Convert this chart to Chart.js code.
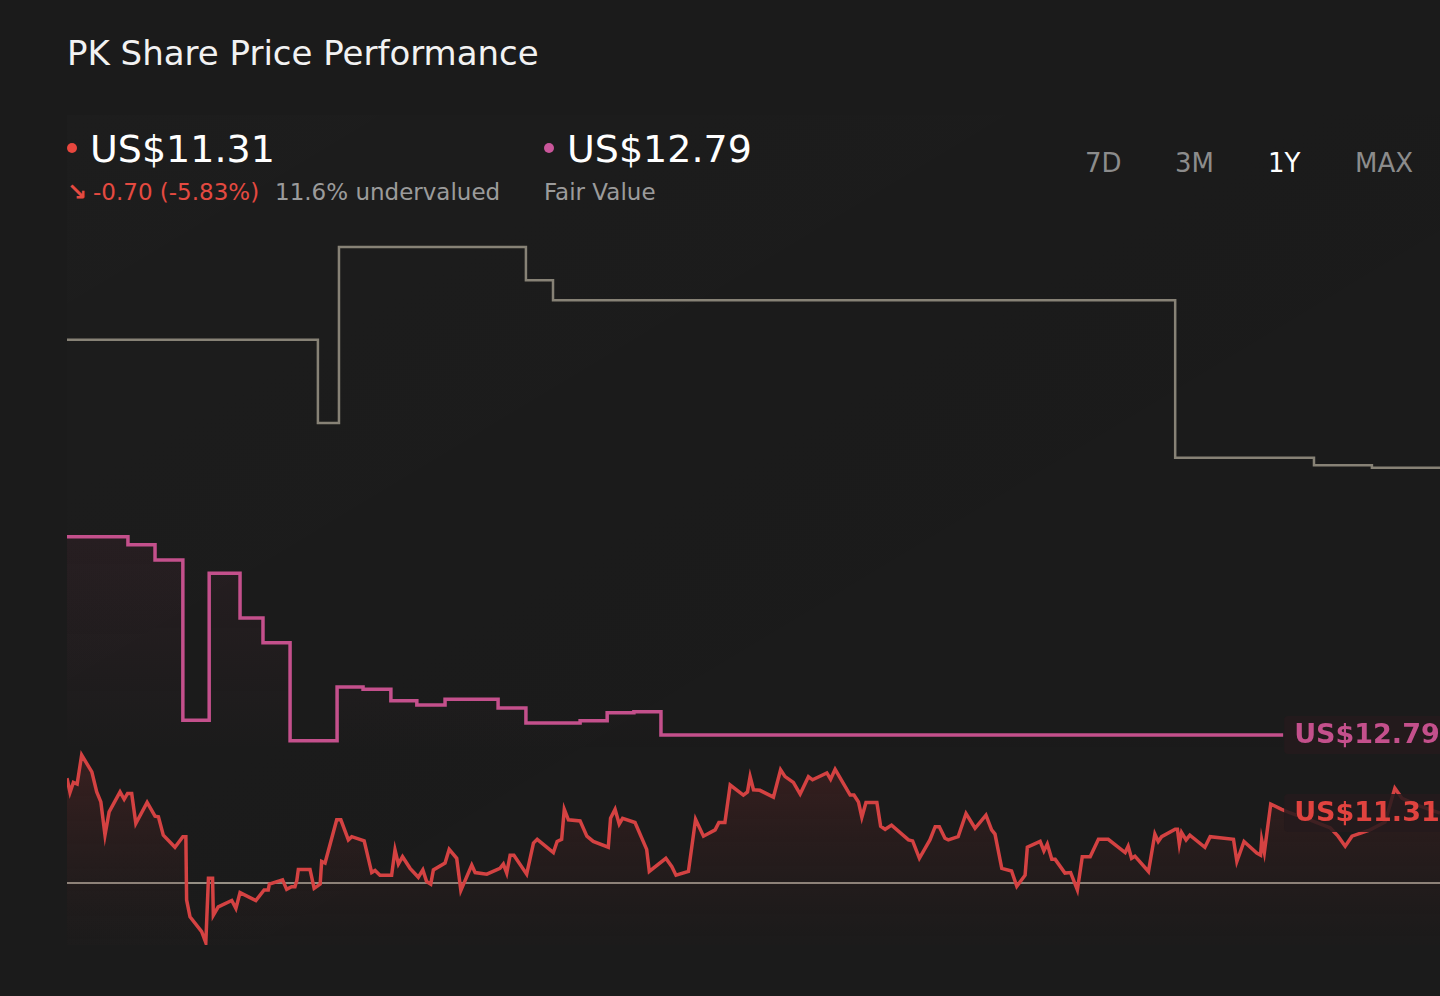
<!DOCTYPE html>
<html>
<head>
<meta charset="utf-8">
<script src="https://cdn.jsdelivr.net/npm/chart.js@4.4.0/dist/chart.umd.min.js"></script>
<style>
  html, body { margin: 0; padding: 0; background: #1b1b1b; width: 1440px; height: 996px; overflow: hidden; font-family: "DejaVu Sans", sans-serif; }
  .t { position: absolute; line-height: 1; white-space: nowrap; }
  .dot { position: absolute; width: 10px; height: 10px; border-radius: 50%; }
  #wrap { position: absolute; left: 67px; top: 115px; width: 1373px; height: 830px; }
</style>
</head>
<body>
<div class="t" style="left:67px;top:36px;font-size:34px;color:#f2f2f2;">PK Share Price Performance</div>

<div class="dot" style="left:67px;top:143px;background:#e8453c;"></div>
<div class="t" style="left:90px;top:130px;font-size:38px;color:#ffffff;">US$11.31</div>
<div class="t" style="left:67px;top:180px;font-size:24px;font-weight:bold;color:#e5483f;">↘</div>
<div class="t" style="left:93px;top:181px;font-size:23px;color:#e5483f;">-0.70 (-5.83%)</div>
<div class="t" style="left:275px;top:181px;font-size:23px;color:#9b9b9b;">11.6% undervalued</div>

<div class="dot" style="left:544px;top:143px;background:#c9559a;"></div>
<div class="t" style="left:567px;top:130px;font-size:38px;color:#ffffff;">US$12.79</div>
<div class="t" style="left:544px;top:181px;font-size:23px;color:#9b9b9b;">Fair Value</div>

<div class="t" style="left:1085px;top:150px;font-size:26px;color:#8c8c8c;">7D</div>
<div class="t" style="left:1175px;top:150px;font-size:26px;color:#8c8c8c;">3M</div>
<div class="t" style="left:1268px;top:150px;font-size:26px;color:#ffffff;">1Y</div>
<div class="t" style="left:1355px;top:150px;font-size:26px;color:#8c8c8c;">MAX</div>

<div id="wrap"><canvas id="chart"></canvas></div>

<script>
// share price, day of the year -> US$
var priceDays = [
  0, 0.8, 1.7, 2.7, 3.9, 6.6, 7.9, 9.0, 10.1, 11.2,
  14.1, 15.2, 16.1, 17.2, 18.3, 21.3, 23.4, 24.3, 25.6, 28.7,
  30.8, 31.6, 31.8, 32.7, 35.8, 36.9, 37.6, 38.7, 38.9, 40.2,
  43.8, 44.9, 46.0, 50.2, 52.4, 53.5, 53.8, 57.3, 58.4, 59.7,
  60.6, 61.1, 61.5, 64.6, 65.7, 67.3, 67.7, 68.6, 71.7, 72.8,
  74.8, 75.7, 79.0, 81.0, 81.9, 83.2, 86.3, 87.2, 88.1, 89.2,
  91.2, 93.4, 94.6, 95.6, 96.7, 97.4, 100.5, 101.6, 103.6, 104.7,
  107.6, 108.5, 111.6, 115.1, 116.0, 116.9, 117.8, 118.8, 122.2, 124.0,
  125.0, 129.3, 130.3, 131.5, 132.2, 133.3, 136.4, 138.2, 139.9, 143.9,
  144.5, 145.7, 146.8, 147.7, 151.0, 154.1, 154.8, 159.2, 160.8, 161.9,
  165.2, 167.1, 169.2, 172.3, 173.3, 174.9, 176.3, 179.8, 180.9, 181.6,
  182.5, 184.2, 187.8, 189.7, 190.9, 193.1, 194.9, 197.1, 198.2, 202.0,
  203.0, 204.2, 208.2, 209.2, 210.4, 211.3, 212.4, 215.3, 216.3, 217.5,
  219.2, 223.7, 224.8, 226.6, 229.4, 230.8, 231.9, 233.4, 234.3, 236.9,
  239.0, 241.4, 244.3, 245.8, 246.7, 248.5, 251.1, 252.5, 254.7, 255.3,
  258.7, 259.7, 260.6, 261.8, 262.7, 265.3, 266.8, 268.6, 269.9, 272.0,
  274.2, 276.8, 281.3, 282.1, 283.0, 283.9, 287.5, 289.2, 290.1, 291.0,
  294.6, 295.2, 295.7, 296.3, 297.5, 298.5, 302.5, 303.9, 310.1, 311.0,
  312.9, 316.3, 317.3, 317.6, 318.3, 320.0, 322.9, 325.2, 330.4, 335.8,
  337.9, 339.8, 341.6, 346.4, 350.4, 353.0, 354.9, 359.7, 365
];
var priceValues = [
  11.97, 11.70, 11.89, 11.86, 12.41, 12.09, 11.71, 11.52, 10.89, 11.33,
  11.71, 11.57, 11.68, 11.68, 11.11, 11.51, 11.25, 11.24, 10.89, 10.66,
  10.86, 10.86, 9.66, 9.34, 9.06, 8.85, 10.07, 10.07, 9.37, 9.53,
  9.65, 9.50, 9.80, 9.65, 9.85, 9.85, 9.96, 10.04, 9.86, 9.91,
  9.91, 10.03, 10.24, 10.24, 9.88, 9.96, 10.39, 10.36, 11.18, 11.18,
  10.80, 10.86, 10.78, 10.18, 10.22, 10.13, 10.13, 10.61, 10.34, 10.48,
  10.26, 10.09, 10.23, 10.01, 9.96, 10.23, 10.36, 10.62, 10.45, 9.84,
  10.32, 10.18, 10.15, 10.26, 10.34, 10.17, 10.51, 10.51, 10.15, 10.74,
  10.81, 10.56, 10.77, 10.81, 11.38, 11.18, 11.16, 10.87, 10.77, 10.66,
  11.21, 11.38, 11.10, 11.21, 11.13, 10.62, 10.20, 10.45, 10.29, 10.13,
  10.20, 11.19, 10.87, 10.99, 11.13, 11.13, 11.84, 11.65, 11.71, 12.00,
  11.75, 11.74, 11.61, 12.13, 12.00, 11.89, 11.67, 12.00, 11.94, 12.07,
  11.95, 12.14, 11.65, 11.65, 11.52, 11.23, 11.51, 11.51, 11.06, 11.00,
  11.08, 10.80, 10.78, 10.45, 10.80, 11.05, 11.05, 10.83, 10.80, 10.86,
  11.30, 11.02, 11.27, 10.99, 10.91, 10.26, 10.21, 9.92, 10.13, 10.66,
  10.77, 10.59, 10.72, 10.43, 10.43, 10.17, 10.18, 9.85, 10.48, 10.48,
  10.81, 10.81, 10.56, 10.68, 10.45, 10.49, 10.20, 10.91, 10.77, 10.86,
  11.00, 11.00, 10.72, 10.94, 10.80, 10.89, 10.66, 10.86, 10.81, 10.39,
  10.77, 10.55, 10.51, 10.80, 10.56, 11.48, 11.38, 11.31, 11.18, 11.03,
  10.87, 10.68, 10.87, 10.99, 11.14, 11.78, 11.59, 11.44, 11.31
];

// fair value estimate (stepped)
var fvDays = [0, 16.2, 23.4, 30.8, 37.8, 46.0, 52.1, 59.3, 71.8, 78.7, 86.1, 93.0, 100.5, 114.6, 122.0, 136.4, 143.6, 150.7, 157.9, 323.3];
var fvValues = [16.55, 16.40, 16.11, 13.07, 15.86, 15.01, 14.54, 12.68, 13.70, 13.66, 13.44, 13.36, 13.47, 13.30, 13.02, 13.06, 13.21, 13.23, 12.79, 12.79];

// analyst target (stepped, grey)
var targetDays = [0, 66.7, 72.3, 122.0, 129.2, 294.6, 331.5, 346.9, 365];
var targetValues = [20.29, 18.71, 22.05, 21.42, 21.04, 18.05, 17.91, 17.86, 17.86];

// flat reference line
var refDays = [0, 365];
var refValues = [9.98, 9.98];

var endLabels = [
  { text: 'US$12.79', value: 12.79, color: '#c4508c' },
  { text: 'US$11.31', value: 11.31, color: '#e0433f' }
];

function pts(days, vals) {
  return days.map(function (d, i) { return { x: d, y: vals[i] }; });
}

function vfade(chart, y0, y1, c0, c1) {
  var area = chart.chartArea;
  if (!area) return c1;
  var g = chart.ctx.createLinearGradient(0, chart.scales.y.getPixelForValue(y0), 0, chart.scales.y.getPixelForValue(y1));
  g.addColorStop(0, c0);
  g.addColorStop(1, c1);
  return g;
}

var bgPlugin = {
  id: 'areaBg',
  beforeDatasetsDraw: function (chart) {
    var a = chart.chartArea, ctx = chart.ctx;
    var g = ctx.createLinearGradient(a.left, a.top, a.left + 500, a.bottom);
    g.addColorStop(0, 'rgba(255,255,255,0.012)');
    g.addColorStop(1, 'rgba(255,255,255,0.0)');
    ctx.save();
    ctx.fillStyle = g;
    ctx.fillRect(a.left, a.top, a.right - a.left, a.bottom - a.top);
    ctx.restore();
  }
};

var labelPlugin = {
  id: 'endLabels',
  afterDatasetsDraw: function (chart) {
    var ctx = chart.ctx;
    var x = chart.scales.x.getPixelForValue(fvDays[fvDays.length - 1]) + 1;
    ctx.save();
    endLabels.forEach(function (l) {
      var y = chart.scales.y.getPixelForValue(l.value);
      ctx.fillStyle = 'rgba(36,26,28,0.85)';
      ctx.beginPath();
      ctx.roundRect(x, y - 19, 200, 38, 4);
      ctx.fill();
      ctx.font = 'bold 27px "DejaVu Sans"';
      ctx.fillStyle = l.color;
      ctx.textBaseline = 'middle';
      ctx.fillText(l.text, x + 10, y + 1);
    });
    ctx.restore();
  }
};

var ctx = document.getElementById('chart');
var myChart = new Chart(ctx, {
  type: 'line',
  data: {
    datasets: [{
      label: 'Share price',
      data: pts(priceDays, priceValues),
      borderColor: '#d44242',
      borderWidth: 3.5,
      borderJoinStyle: 'miter',
      pointRadius: 0,
      tension: 0,
      fill: 'start',
      backgroundColor: function (c) {
        return vfade(c.chart, 12.4, 8.9, 'rgba(120,40,40,0.32)', 'rgba(70,30,30,0.03)');
      },
      order: 1
    }, {
      label: 'Fair value',
      data: pts(fvDays, fvValues),
      borderColor: '#c4508c',
      borderWidth: 3.5,
      pointRadius: 0,
      stepped: true,
      fill: 'start',
      backgroundColor: function (c) {
        return vfade(c.chart, 16.6, 12.5, 'rgba(120,45,70,0.12)', 'rgba(120,45,70,0)');
      },
      order: 2
    }, {
      label: 'Analyst target',
      data: pts(targetDays, targetValues),
      borderColor: '#878276',
      borderWidth: 2.5,
      pointRadius: 0,
      stepped: true,
      fill: false,
      order: 3
    }, {
      label: 'Reference',
      data: pts(refDays, refValues),
      borderColor: '#958f84',
      borderWidth: 2,
      pointRadius: 0,
      fill: false,
      order: 4
    }]
  },
  options: {
    responsive: true,
    maintainAspectRatio: false,
    animation: false,
    layout: { padding: 0 },
    plugins: {
      legend: { display: false },
      tooltip: { enabled: false }
    },
    scales: {
      x: { type: 'linear', min: 0, max: 365, display: false },
      y: { min: 8.805, max: 24.555, display: false }
    }
  },
  plugins: [bgPlugin, labelPlugin]
});
</script>
</body>
</html>
